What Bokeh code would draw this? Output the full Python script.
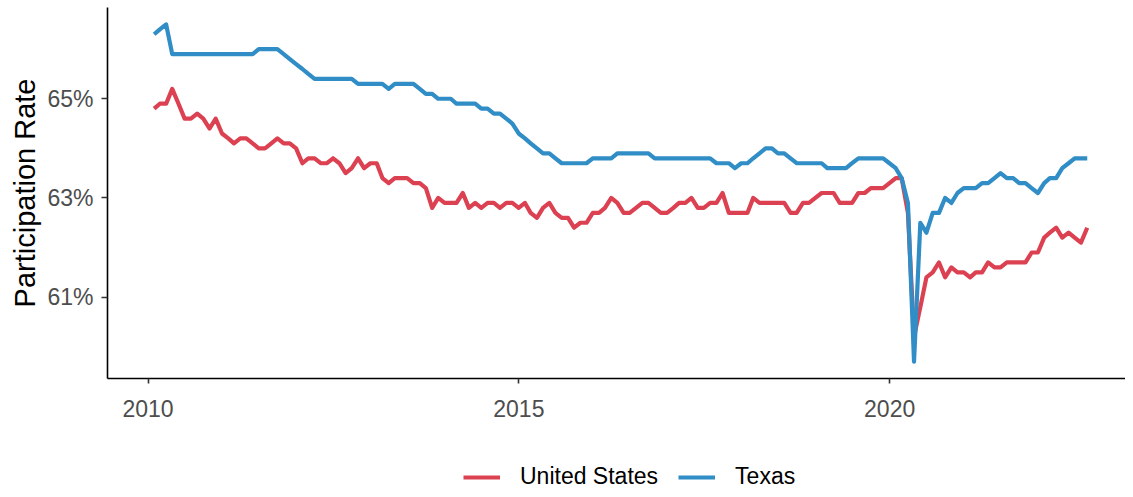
import pandas as pd
from bokeh.plotting import figure
from bokeh.layouts import column
from bokeh.models import (FixedTicker, PrintfTickFormatter, DatetimeTickFormatter,
                          Legend, LegendItem, Range1d)
from bokeh.embed import file_html
from bokeh.resources import INLINE

# ---------------- data ----------------
months = pd.date_range("2010-01-01", "2022-08-01", freq="MS") + pd.offsets.MonthEnd(0)

us_2010 = [64.8, 64.9, 64.9, 65.2, 64.9, 64.6, 64.6, 64.7, 64.6, 64.4, 64.6, 64.3]
us_2011 = [64.2, 64.1, 64.2, 64.2, 64.1, 64.0, 64.0, 64.1, 64.2, 64.1, 64.1, 64.0]
us_2012 = [63.7, 63.8, 63.8, 63.7, 63.7, 63.8, 63.7, 63.5, 63.6, 63.8, 63.6, 63.7]
us_2013 = [63.7, 63.4, 63.3, 63.4, 63.4, 63.4, 63.3, 63.3, 63.2, 62.8, 63.0, 62.9]
us_2014 = [62.9, 62.9, 63.1, 62.8, 62.9, 62.8, 62.9, 62.9, 62.8, 62.9, 62.9, 62.8]
us_2015 = [62.9, 62.7, 62.6, 62.8, 62.9, 62.7, 62.6, 62.6, 62.4, 62.5, 62.5, 62.7]
us_2016 = [62.7, 62.8, 63.0, 62.9, 62.7, 62.7, 62.8, 62.9, 62.9, 62.8, 62.7, 62.7]
us_2017 = [62.8, 62.9, 62.9, 63.0, 62.8, 62.8, 62.9, 62.9, 63.1, 62.7, 62.7, 62.7]
us_2018 = [62.7, 63.0, 62.9, 62.9, 62.9, 62.9, 62.9, 62.7, 62.7, 62.9, 62.9, 63.0]
us_2019 = [63.1, 63.1, 63.1, 62.9, 62.9, 62.9, 63.1, 63.1, 63.2, 63.2, 63.2, 63.3]
us_2020 = [63.4, 63.4, 62.7, 60.2, 60.8, 61.4, 61.5, 61.7, 61.4, 61.6, 61.5, 61.5]
us_2021 = [61.4, 61.5, 61.5, 61.7, 61.6, 61.6, 61.7, 61.7, 61.7, 61.7, 61.9, 61.9]
us_2022 = [62.2, 62.3, 62.4, 62.2, 62.3, 62.2, 62.1, 62.4]

tx_2010 = [66.3, 66.4, 66.5, 65.9, 65.9, 65.9, 65.9, 65.9, 65.9, 65.9, 65.9, 65.9]
tx_2011 = [65.9, 65.9, 65.9, 65.9, 65.9, 66.0, 66.0, 66.0, 66.0, 65.9, 65.8, 65.7]
tx_2012 = [65.6, 65.5, 65.4, 65.4, 65.4, 65.4, 65.4, 65.4, 65.4, 65.3, 65.3, 65.3]
tx_2013 = [65.3, 65.3, 65.2, 65.3, 65.3, 65.3, 65.3, 65.2, 65.1, 65.1, 65.0, 65.0]
tx_2014 = [65.0, 64.9, 64.9, 64.9, 64.9, 64.8, 64.8, 64.7, 64.7, 64.6, 64.5, 64.3]
tx_2015 = [64.2, 64.1, 64.0, 63.9, 63.9, 63.8, 63.7, 63.7, 63.7, 63.7, 63.7, 63.8]
tx_2016 = [63.8, 63.8, 63.8, 63.9, 63.9, 63.9, 63.9, 63.9, 63.9, 63.8, 63.8, 63.8]
tx_2017 = [63.8, 63.8, 63.8, 63.8, 63.8, 63.8, 63.8, 63.7, 63.7, 63.7, 63.6, 63.7]
tx_2018 = [63.7, 63.8, 63.9, 64.0, 64.0, 63.9, 63.9, 63.8, 63.7, 63.7, 63.7, 63.7]
tx_2019 = [63.7, 63.6, 63.6, 63.6, 63.6, 63.7, 63.8, 63.8, 63.8, 63.8, 63.8, 63.7]
tx_2020 = [63.6, 63.4, 62.9, 59.7, 62.5, 62.3, 62.7, 62.7, 63.0, 62.9, 63.1, 63.2]
tx_2021 = [63.2, 63.2, 63.3, 63.3, 63.4, 63.5, 63.4, 63.4, 63.3, 63.3, 63.2, 63.1]
tx_2022 = [63.3, 63.4, 63.4, 63.6, 63.7, 63.8, 63.8, 63.8]

us = (us_2010 + us_2011 + us_2012 + us_2013 + us_2014 + us_2015 + us_2016
      + us_2017 + us_2018 + us_2019 + us_2020 + us_2021 + us_2022)
tx = (tx_2010 + tx_2011 + tx_2012 + tx_2013 + tx_2014 + tx_2015 + tx_2016
      + tx_2017 + tx_2018 + tx_2019 + tx_2020 + tx_2021 + tx_2022)

series_names = ["United States", "Texas"]
series_colors = ["#DC4152", "#318DC6"]

x_tick_dates = pd.to_datetime(["2010-01-01", "2015-01-01", "2020-01-01"])
y_tick_values = [61, 63, 65]
y_title = "Participation Rate"

# ---------------- ranges (5% expansion like ggplot; right end trimmed to canvas) ----
x_span = months.max() - months.min()
x_pad = 0.05 * x_span
x_range = Range1d(months.min() - x_pad, months.max() + 0.82 * x_pad)
all_vals = us + tx
y_span = max(all_vals) - min(all_vals)
y_range = Range1d(min(all_vals) - 0.05 * y_span, max(all_vals) + 0.05 * y_span)

FONT = "Liberation Sans"
W = 1125

p = figure(width=W, height=449, x_axis_type="datetime",
           x_range=x_range, y_range=y_range,
           output_backend="svg", toolbar_location=None, tools="",
           min_border_left=107, min_border_right=0,
           min_border_top=7, min_border_bottom=71)

p.outline_line_color = None
p.grid.visible = False
p.background_fill_color = "white"
p.border_fill_color = "white"

line_kw = dict(line_width=4.2, line_join="round")
p.line(months, us, line_color=series_colors[0], **line_kw)
p.line(months, tx, line_color=series_colors[1], **line_kw)

# x axis
xa = p.xaxis[0]
xa.ticker = FixedTicker(ticks=[t.timestamp() * 1000 for t in x_tick_dates])
xa.formatter = DatetimeTickFormatter(years="%Y", months="%Y", days="%Y", hours="%Y",
                                     minutes="%Y", seconds="%Y", milliseconds="%Y")
xa.minor_tick_line_color = None
xa.major_tick_in = 0
xa.major_tick_out = 5
xa.major_tick_line_color = "#333333"
xa.major_tick_line_width = 1.6
xa.axis_line_color = "black"
xa.axis_line_width = 1.6
xa.major_label_text_font = FONT
xa.major_label_text_font_size = "23px"
xa.major_label_text_color = "#4D4D4D"
xa.major_label_standoff = 16

# y axis
ya = p.yaxis[0]
ya.ticker = FixedTicker(ticks=y_tick_values)
ya.formatter = PrintfTickFormatter(format="%d%%")
ya.minor_tick_line_color = None
ya.major_tick_in = 0
ya.major_tick_out = 6
ya.major_tick_line_color = "#333333"
ya.major_tick_line_width = 1.6
ya.axis_line_color = "black"
ya.axis_line_width = 1.6
ya.major_label_text_font = FONT
ya.major_label_text_font_size = "23px"
ya.major_label_text_color = "#4D4D4D"
ya.major_label_standoff = 8
ya.axis_label = y_title
ya.axis_label_text_font = FONT
ya.axis_label_text_font_size = "29px"
ya.axis_label_text_font_style = "normal"
ya.axis_label_text_color = "black"
ya.axis_label_standoff = 3

# ---------------- legend strip below the plot ----------------
# (its frame is aligned with the main plot's frame by the column layout)
lg = figure(width=W, height=40, x_range=Range1d(0, 1), y_range=Range1d(0, 1),
            output_backend="svg", toolbar_location=None, tools="",
            x_axis_location=None, y_axis_location=None,
            min_border_left=0, min_border_right=0, min_border_top=0, min_border_bottom=0)
lg.outline_line_color = None
lg.grid.visible = False
lg.background_fill_color = "white"
lg.border_fill_color = "white"
nan = float("nan")
k_us = lg.line([0, 1], [nan, nan], line_color=series_colors[0], **line_kw)
k_tx = lg.line([0, 1], [nan, nan], line_color=series_colors[1], **line_kw)

legend = Legend(
    items=[LegendItem(label=series_names[0], renderers=[k_us]),
           LegendItem(label=series_names[1], renderers=[k_tx])],
    orientation="horizontal",
    location=(356, -1),
    glyph_width=37, glyph_height=26, label_height=26,
    label_standoff=20, spacing=20, padding=0, margin=0,
    label_text_font=FONT, label_text_font_size="23px", label_text_color="black",
    border_line_color=None, background_fill_alpha=0,
)
lg.add_layout(legend, "center")

layout = column(p, lg, spacing=0)
open("out.html", "w").write(file_html(layout, INLINE))
